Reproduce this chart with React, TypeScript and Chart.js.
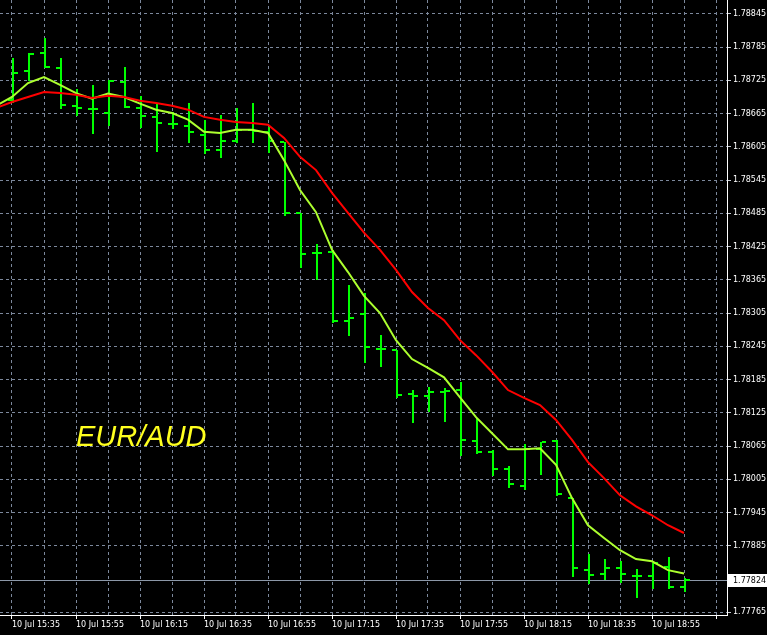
import React, { useEffect, useRef } from 'react';
import { Chart, registerables } from 'chart.js';

Chart.register(...registerables);

// 5-minute bars, 10 Jul
const barTimes = [
  '15:35', '15:40', '15:45', '15:50', '15:55', '16:00', '16:05', '16:10', '16:15', '16:20', '16:25',
  '16:30', '16:35', '16:40', '16:45', '16:50', '16:55', '17:00', '17:05', '17:10', '17:15', '17:20',
  '17:25', '17:30', '17:35', '17:40', '17:45', '17:50', '17:55', '18:00', '18:05', '18:10', '18:15',
  '18:20', '18:25', '18:30', '18:35', '18:40', '18:45', '18:50', '18:55', '19:00', '19:05',
];

const xTickLabels = [
  '10 Jul 15:35', '10 Jul 15:55', '10 Jul 16:15', '10 Jul 16:35', '10 Jul 16:55', '10 Jul 17:15',
  '10 Jul 17:35', '10 Jul 17:55', '10 Jul 18:15', '10 Jul 18:35', '10 Jul 18:55',
];

const yTickLabels = [
  '1.78845', '1.78785', '1.78725', '1.78665', '1.78605', '1.78545', '1.78485', '1.78425', '1.78365',
  '1.78305', '1.78245', '1.78185', '1.78125', '1.78065', '1.78005', '1.77945', '1.77885', '1.77765',
];

const opens = [
  1.78690, 1.78742, 1.78775, 1.78748, 1.78679, 1.78673, 1.78666, 1.78722, 1.78675, 1.78659, 1.78646,
  1.78643, 1.78627, 1.78599, 1.78616, 1.78636, 1.78632, 1.78614, 1.78486, 1.78413, 1.78415, 1.78291,
  1.78303, 1.78240, 1.78238, 1.78159, 1.78155, 1.78162, 1.78166, 1.78074, 1.78054, 1.78023, 1.77993,
  1.78059, 1.78074, 1.77971, 1.77841, 1.77834, 1.77845, 1.77830, 1.77830, 1.77846, 1.77810,
];
const highs = [
  1.78766, 1.78775, 1.78802, 1.78766, 1.78710, 1.78717, 1.78726, 1.78749, 1.78697, 1.78684, 1.78668,
  1.78684, 1.78654, 1.78663, 1.78675, 1.78684, 1.78641, 1.78614, 1.78486, 1.78430, 1.78419, 1.78356,
  1.78341, 1.78265, 1.78238, 1.78166, 1.78171, 1.78170, 1.78180, 1.78115, 1.78058, 1.78029, 1.78068,
  1.78072, 1.78076, 1.77971, 1.77870, 1.77861, 1.77857, 1.77843, 1.77854, 1.77864, 1.77826,
];
const lows = [
  1.78686, 1.78726, 1.78749, 1.78675, 1.78663, 1.78630, 1.78645, 1.78677, 1.78641, 1.78598, 1.78639,
  1.78614, 1.78594, 1.78587, 1.78614, 1.78614, 1.78596, 1.78482, 1.78388, 1.78366, 1.78289, 1.78265,
  1.78217, 1.78209, 1.78153, 1.78108, 1.78128, 1.78110, 1.78049, 1.78052, 1.78012, 1.77991, 1.77987,
  1.78014, 1.77976, 1.77830, 1.77817, 1.77825, 1.77819, 1.77792, 1.77808, 1.77808, 1.77803,
];
const closes = [
  1.78738, 1.78773, 1.78749, 1.78681, 1.78675, 1.78673, 1.78724, 1.78677, 1.78661, 1.78648, 1.78646,
  1.78632, 1.78599, 1.78616, 1.78636, 1.78634, 1.78616, 1.78486, 1.78412, 1.78413, 1.78291, 1.78296,
  1.78244, 1.78240, 1.78157, 1.78155, 1.78162, 1.78164, 1.78076, 1.78054, 1.78023, 1.77996, 1.78059,
  1.78072, 1.77978, 1.77845, 1.77832, 1.77845, 1.77834, 1.77830, 1.77854, 1.77810, 1.77824,
];

// moving averages, first value belongs to the bar before 15:35 (index -1)
const maFast = [
  1.78679, 1.78695, 1.78720, 1.78731, 1.78717, 1.78702, 1.78692, 1.78701, 1.78695, 1.78683, 1.78672,
  1.78666, 1.78654, 1.78632, 1.78630, 1.78636, 1.78636, 1.78630, 1.78581, 1.78527, 1.78487, 1.78419,
  1.78379, 1.78336, 1.78305, 1.78256, 1.78222, 1.78206, 1.78189, 1.78153, 1.78117, 1.78088, 1.78059,
  1.78059, 1.78061, 1.78031, 1.77971, 1.77922, 1.77899, 1.77877, 1.77861, 1.77857, 1.77841, 1.77835,
];
const maSlow = [
  1.78675, 1.78686, 1.78695, 1.78704, 1.78702, 1.78699, 1.78693, 1.78697, 1.78695, 1.78688, 1.78684,
  1.78679, 1.78672, 1.78659, 1.78654, 1.78650, 1.78648, 1.78645, 1.78621, 1.78587, 1.78563, 1.78522,
  1.78486, 1.78450, 1.78419, 1.78383, 1.78343, 1.78314, 1.78292, 1.78256, 1.78229, 1.78199, 1.78166,
  1.78152, 1.78139, 1.78112, 1.78076, 1.78036, 1.78007, 1.77976, 1.77956, 1.77940, 1.77922, 1.77908,
];

const symbolName = 'EUR/AUD';
const currentPrice = closes[closes.length - 1];
const currentPriceLabel = '1.77824';

const GRID = '#7c889c';
const BAR = '#00ff00';
const AXIS_FONT = { family: '"DejaVu Sans", Verdana, sans-serif', size: 8 };

const ohlcPlugin = {
  id: 'ohlcBars',
  beforeDraw(chart: any) {
    const { ctx, width, height } = chart;
    ctx.save();
    ctx.fillStyle = '#000000';
    ctx.fillRect(0, 0, width, height);
    ctx.restore();
  },
  beforeDatasetsDraw(chart: any) {
    const { ctx, chartArea, scales } = chart;
    const x = scales.x;
    const y = scales.y;
    ctx.save();
    ctx.beginPath();
    ctx.rect(chartArea.left, chartArea.top, chartArea.right - chartArea.left, chartArea.bottom - chartArea.top);
    ctx.clip();
    // current price line
    const py = Math.round(y.getPixelForValue(currentPrice)) + 0.5;
    ctx.strokeStyle = '#8c98a8';
    ctx.lineWidth = 1;
    ctx.beginPath();
    ctx.moveTo(chartArea.left, py);
    ctx.lineTo(chartArea.right, py);
    ctx.stroke();
    // OHLC bars
    ctx.fillStyle = BAR;
    for (let i = 0; i < opens.length; i++) {
      const px = Math.round(x.getPixelForValue(i));
      const yh = Math.round(y.getPixelForValue(highs[i]));
      const yl = Math.round(y.getPixelForValue(lows[i]));
      const yo = Math.round(y.getPixelForValue(opens[i]));
      const yc = Math.round(y.getPixelForValue(closes[i]));
      ctx.fillRect(px, yh, 2, Math.max(2, yl - yh + 1));
      ctx.fillRect(px - 4, yo - 1, 4, 2);
      ctx.fillRect(px + 2, yc - 1, 4, 2);
    }
    ctx.restore();
  },
  afterDraw(chart: any) {
    const { ctx, chartArea, scales, width } = chart;
    const y = scales.y;
    ctx.save();
    // symbol text
    ctx.fillStyle = '#ffff1e';
    ctx.font = 'italic 29px "Liberation Sans", Arial, sans-serif';
    ctx.textBaseline = 'alphabetic';
    ctx.textAlign = 'left';
    ctx.fillText(symbolName, 76, 446);
    // current price label
    const py = Math.round(y.getPixelForValue(currentPrice));
    ctx.fillStyle = '#ffffff';
    ctx.fillRect(chartArea.right + 1, py - 6, width - chartArea.right - 1, 13);
    ctx.fillStyle = '#000000';
    ctx.font = '8px "DejaVu Sans", Verdana, sans-serif';
    ctx.textBaseline = 'middle';
    ctx.fillText(currentPriceLabel, chartArea.right + 6, py + 1);
    ctx.restore();
  },
};

export default function App() {
  const canvasRef = useRef<HTMLCanvasElement | null>(null);

  useEffect(() => {
    document.body.style.margin = '0';
    document.body.style.background = '#ffffff';
    const canvas = canvasRef.current;
    if (!canvas) return;

    const gridIdx: number[] = [];
    for (let i = 0; i <= 44; i += 2) gridIdx.push(i);
    const yVals = yTickLabels.map((s) => parseFloat(s));

    const chart = new Chart(canvas, {
      type: 'line',
      data: {
        datasets: [
          {
            label: 'MA slow',
            data: maSlow.map((v, i) => ({ x: i - 1, y: v })),
            borderColor: '#ff0000',
            borderWidth: 2,
            pointRadius: 0,
            tension: 0,
            fill: false,
          },
          {
            label: 'MA fast',
            data: maFast.map((v, i) => ({ x: i - 1, y: v })),
            borderColor: '#adff2f',
            borderWidth: 2,
            pointRadius: 0,
            tension: 0,
            fill: false,
          },
        ],
      },
      options: {
        animation: false,
        responsive: false,
        events: [],
        layout: { padding: 0 },
        plugins: {
          legend: { display: false },
          tooltip: { enabled: false },
          title: { display: false },
        },
        scales: {
          x: {
            type: 'linear',
            position: 'bottom',
            min: -0.75,
            max: 44.6875,
            afterBuildTicks: (s: any) => {
              s.ticks = gridIdx.map((v) => ({ value: v }));
            },
            afterFit: (s: any) => {
              s.height = 20;
              s.paddingLeft = 0;
              s.paddingRight = 0;
            },
            grid: {
              color: GRID,
              lineWidth: 1,
              drawTicks: true,
              tickLength: 4,
              tickColor: (c: any) =>
                c.tick && c.tick.value % 4 === 0 ? '#ffffff' : 'rgba(0,0,0,0)',
            },
            border: { display: true, color: '#ffffff', width: 1, dash: [3, 3] },
            ticks: {
              autoSkip: false,
              maxRotation: 0,
              minRotation: 0,
              align: 'start',
              padding: 1,
              color: '#ffffff',
              font: AXIS_FONT,
              callback: (v: any) => {
                const n = Number(v);
                if (n % 4 !== 0) return '';
                const lbl = xTickLabels[n / 4];
                return lbl && barTimes[n] ? lbl : '';
              },
            },
          },
          y: {
            type: 'linear',
            position: 'right',
            min: 1.7776,
            max: 1.7887,
            afterBuildTicks: (s: any) => {
              s.ticks = yVals.map((v) => ({ value: v }));
            },
            afterFit: (s: any) => {
              s.width = 40;
              s.paddingTop = 0;
              s.paddingBottom = 0;
            },
            grid: {
              color: GRID,
              lineWidth: 1,
              drawTicks: true,
              tickLength: 4,
              tickColor: '#c8ccd4',
            },
            border: { display: true, color: '#ffffff', width: 1, dash: [3, 3] },
            ticks: {
              autoSkip: false,
              padding: 2,
              color: '#ffffff',
              font: AXIS_FONT,
              callback: (v: any, i: number) => yTickLabels[i],
            },
          },
        },
      },
      plugins: [ohlcPlugin],
    } as any);

    return () => chart.destroy();
  }, []);

  return (
    <div style={{ width: 767, height: 638, background: '#ffffff' }}>
      <canvas
        ref={canvasRef}
        width={767}
        height={635}
        style={{ display: 'block', width: 767, height: 635 }}
      />
    </div>
  );
}
